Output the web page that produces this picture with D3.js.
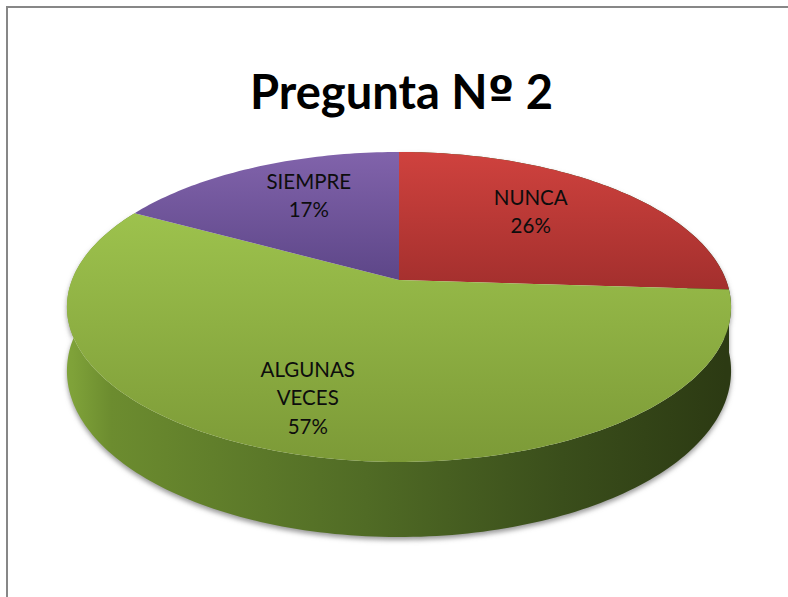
<!DOCTYPE html>
<html>
<head>
<meta charset="utf-8">
<script src="https://cdn.jsdelivr.net/npm/d3@7"></script>
<style>
  body { margin: 0; background: #fff; }
  svg { display: block; }
</style>
</head>
<body>
<div id="chart"></div>
<script>
var titleParts = ['Pregunta N', 'º', ' 2'];
var categories = ['NUNCA', 'ALGUNAS VECES', 'SIEMPRE'];
var percents = [26, 57, 17];
var labelLines = [['NUNCA'], ['ALGUNAS', 'VECES'], ['SIEMPRE']];

var width = 788,
    height = 597;

// 3d pie geometry (perspective of a tilted disc)
var cx = 399, cy = 280,
    rx = 327, ry = 150.3,
    persp = 0.174,
    depth = 62;

var topColors = [['#cf423e', '#a32f2d'], ['#9dc24d', '#7c9a37'], ['#8163ab', '#5d4688']];

var svg = d3.select('#chart')
  .append('svg')
  .attr('width', width)
  .attr('height', height);

var defs = svg.append('defs');

// frame
svg.append('rect')
  .attr('x', 7).attr('y', 7)
  .attr('width', 820).attr('height', 620)
  .attr('fill', 'none')
  .attr('stroke', '#878787')
  .attr('stroke-width', 2);

var xs = d3.scaleLinear().domain([-1, 1]).range([cx - rx, cx + rx]);
var ys = d3.scaleLinear().domain([-1, 1]).range([cy - ry, cy + ry]);

function project(angle, r, drop, rv) {
  var u = r * Math.sin(angle),
      v = -(rv === undefined ? r : rv) * Math.cos(angle),
      w = 1 - persp * v;
  return [xs(u / w), ys(v / w) + (drop || 0) / w];
}

function arcPoints(a0, a1, drop) {
  var n = Math.max(2, Math.ceil((a1 - a0) / 0.02)),
      pts = [];
  for (var i = 0; i <= n; i++) pts.push(project(a0 + (a1 - a0) * i / n, 1, drop));
  return pts;
}

var line = d3.line();

var pie = d3.pie().sort(null).value(function(d) { return d; });
var arcs = pie(percents);

// gradients
topColors.forEach(function(c, i) {
  var g = defs.append('linearGradient')
    .attr('id', 'top' + i)
    .attr('x1', 0).attr('y1', 0).attr('x2', 0).attr('y2', 1);
  g.append('stop').attr('offset', '0%').attr('stop-color', c[0]);
  g.append('stop').attr('offset', '100%').attr('stop-color', c[1]);
});

var side = defs.append('linearGradient')
  .attr('id', 'side')
  .attr('gradientUnits', 'userSpaceOnUse')
  .attr('x1', cx - rx).attr('y1', 0).attr('x2', cx + rx).attr('y2', 0);
[['0%', '#7fa239'], ['6%', '#6c8c2f'], ['45%', '#506b25'], ['75%', '#3a4e1b'], ['100%', '#2c3a13']].forEach(function(s) {
  side.append('stop').attr('offset', s[0]).attr('stop-color', s[1]);
});

defs.append('filter')
  .attr('id', 'blur')
  .attr('x', '-10%').attr('y', '-10%').attr('width', '120%').attr('height', '120%')
  .append('feGaussianBlur')
  .attr('stdDeviation', 2.5);

// side walls (front part only shows)
function sidePath(d) {
  var topPts = arcPoints(d.startAngle, d.endAngle, 0),
      botPts = arcPoints(d.startAngle, d.endAngle, depth).reverse();
  return line(topPts.concat(botPts)) + 'Z';
}

var frontSide = arcs.filter(function(d) {
  return d.startAngle < Math.PI * 1.5 && d.endAngle > Math.PI * 0.5;
});

// shadow
svg.append('g')
  .attr('filter', 'url(#blur)')
  .selectAll('path')
  .data(frontSide)
  .enter().append('path')
  .attr('d', sidePath)
  .attr('transform', 'translate(0,3)')
  .attr('fill', '#999');

svg.append('g')
  .selectAll('path')
  .data(frontSide)
  .enter().append('path')
  .attr('d', sidePath)
  .attr('fill', 'url(#side)');

// top faces
svg.append('g')
  .selectAll('path')
  .data(arcs)
  .enter().append('path')
  .attr('d', function(d) {
    return line([[cx, cy]].concat(arcPoints(d.startAngle, d.endAngle, 0))) + 'Z';
  })
  .attr('fill', function(d, i) { return 'url(#top' + i + ')'; });

// labels
var lineH = 28.5;
var labels = svg.append('g')
  .selectAll('text')
  .data(arcs)
  .enter().append('text')
  .attr('text-anchor', 'middle')
  .style('font-family', 'Lato, "Open Sans", sans-serif')
  .style('font-size', '20.5px')
  .attr('fill', '#0d0d0d');

labels.each(function(d, i) {
  var mid = (d.startAngle + d.endAngle) / 2,
      big = (d.endAngle - d.startAngle) > Math.PI,
      p = project(mid, big ? 0.88 : 0.6, 0, 0.72),
      rows = labelLines[i].concat([percents[i] + '%']),
      y0 = p[1] - (rows.length - 1) * lineH / 2 + 7;
  var t = d3.select(this);
  rows.forEach(function(r, j) {
    t.append('tspan')
      .attr('x', p[0])
      .attr('y', y0 + j * lineH)
      .text(r);
  });
});

// title, sized to the reference width
var tt = svg.append('text')
  .attr('x', 401.5)
  .attr('y', 108.5)
  .attr('text-anchor', 'middle')
  .style('font-family', 'Lato, "Open Sans", sans-serif')
  .style('font-weight', 'bold')
  .style('font-size', '40px')
  .attr('fill', '#000');
titleParts.forEach(function(s, i) {
  var sp = tt.append('tspan').text(s);
  if (i === 1) sp.style('font-family', '"DejaVu Sans", sans-serif');
});
var tw = tt.node().getComputedTextLength();
tt.style('font-size', (40 * 303 / tw).toFixed(1) + 'px');
</script>
</body>
</html>
